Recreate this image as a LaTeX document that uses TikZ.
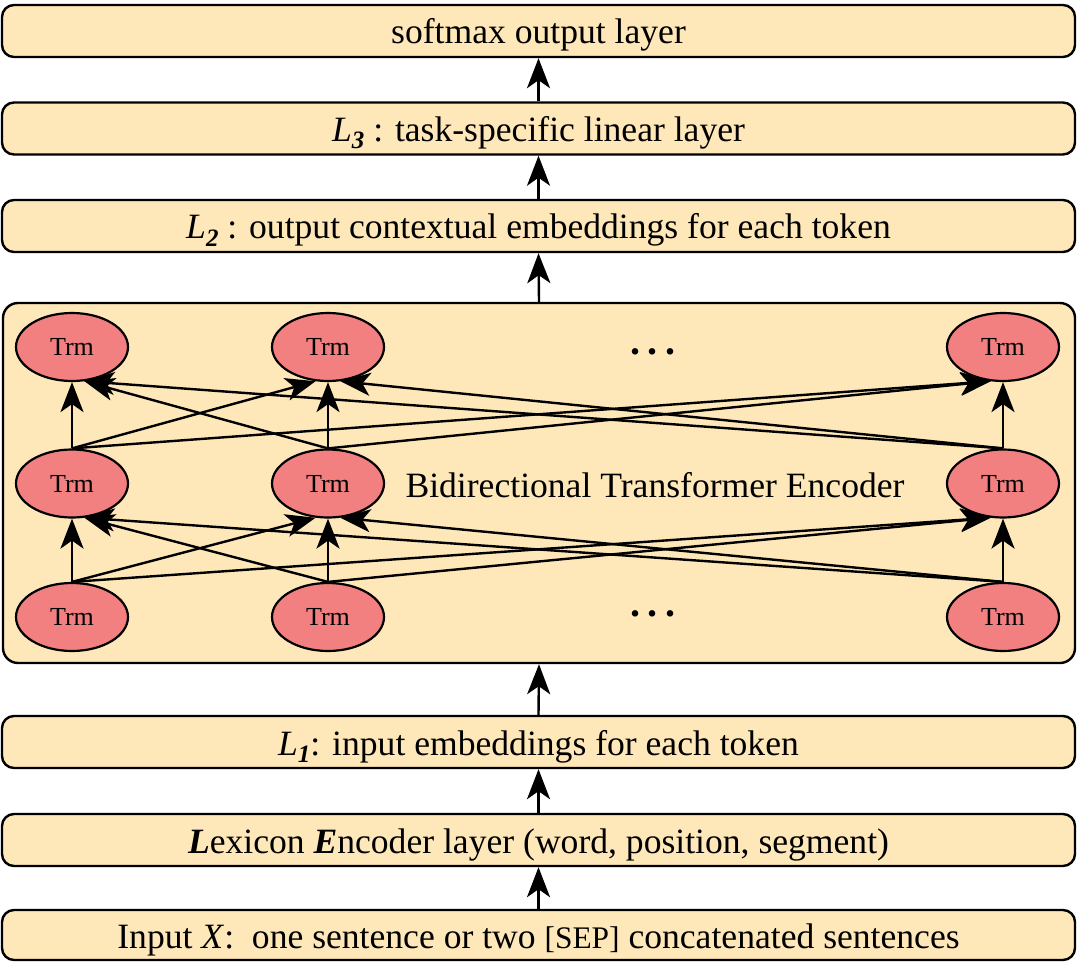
\documentclass[tikz,border=0pt]{standalone}
\usepackage{fontspec}
\setmainfont{Liberation Serif}
\usepackage{xcolor}
\usetikzlibrary{shapes.geometric,arrows.meta,positioning}

\definecolor{barfill}{RGB}{254,232,185}
\definecolor{trmfill}{RGB}{242,128,128}
\newcommand{\layersub}[1]{\raisebox{-0.45ex}{\fontsize{12.5}{14}\selectfont\bfseries\itshape #1}}

\begin{document}
\begin{tikzpicture}[x=0.5pt,y=-0.5pt,line width=1.2pt,
	bar/.style={draw,line width=1.2pt,rounded corners=6pt,fill=barfill,minimum width=536.5pt,minimum height=26pt,inner sep=0pt,text height=15pt,text depth=2pt,font=\fontsize{17.8}{20}\selectfont},
	trm/.style={ellipse,draw,line width=1.1pt,fill=trmfill,minimum width=56pt,minimum height=34pt,inner sep=0pt,font=\fontsize{13}{15}\selectfont},
	dots/.style={anchor=base,font=\fontsize{20}{22}\selectfont\bfseries},
	>={Stealth[length=15pt,width=11.5pt,inset=4pt]}]
	\useasboundingbox (0,0) rectangle (1080,962);

	% layers, top to bottom
	\node[bar] (softmax) at (538.5,31) {softmax output layer};
	\node[bar] (task) at (538.5,128.5) {\textit{L}\layersub{3} : task-specific linear layer};
	\node[bar] (ctx) at (538.5,226) {\textit{L}\layersub{2} : output contextual embeddings for each token};
	\node[bar,rounded corners=7.5pt,minimum width=536pt,minimum height=180pt] (enc) at (539,483) {};
	\node[bar] (emb) at (538.5,742) {\textit{L}\layersub{1}: input embeddings for each token};
	\node[bar] (lex) at (538.5,840) {\textbf{\textit{L}}exicon \textbf{\textit{E}}ncoder layer (word, position, segment)};
	\node[bar,minimum height=25pt] (inp) at (538.5,935) {Input \textit{X}:\ \ one sentence or two {\fontsize{15.7}{18}\selectfont[SEP]} concatenated sentences};

	% transformer blocks
	\foreach \r/\y in {1/617,2/483.5,3/347}
		\foreach \c/\x in {1/72,2/328,3/1003}
			\node[trm] (t\r\c) at (\x,\y) {Trm};
	\node[dots] (dotsup) at (653,354) {.\hspace{0.2em}.\hspace{0.2em}.};
	\node[dots] (dotslow) at (653,616) {.\hspace{0.2em}.\hspace{0.2em}.};
	\node[font=\fontsize{17.8}{20}\selectfont] (title) at (655,485) {Bidirectional Transformer Encoder};

	\foreach \l/\u in {1/2,2/3}{
		\foreach \c in {1,2,3}
			\draw[->] (t\l\c.north) -- (t\u\c.south);
		\draw[->] (t\l1.north) -- (t\u2.250);
		\draw[->] (t\l1.north) -- (t\u3.250);
		\draw[->] (t\l2.north) -- (t\u1.290);
		\draw[->] (t\l2.north) -- (t\u3.250);
		\draw[->] (t\l3.north) -- (t\u1.290);
		\draw[->] (t\l3.north) -- (t\u2.290);
	}

	% between layers
	\draw[->] (task.north) -- (softmax.south);
	\draw[->] (ctx.north) -- (task.south);
	\draw[->] (enc.north) -- (ctx.south);
	\draw[->] (emb.north) -- (enc.south);
	\draw[->] (lex.north) -- (emb.south);
	\draw[->] (inp.north) -- (lex.south);
\end{tikzpicture}
\end{document}
